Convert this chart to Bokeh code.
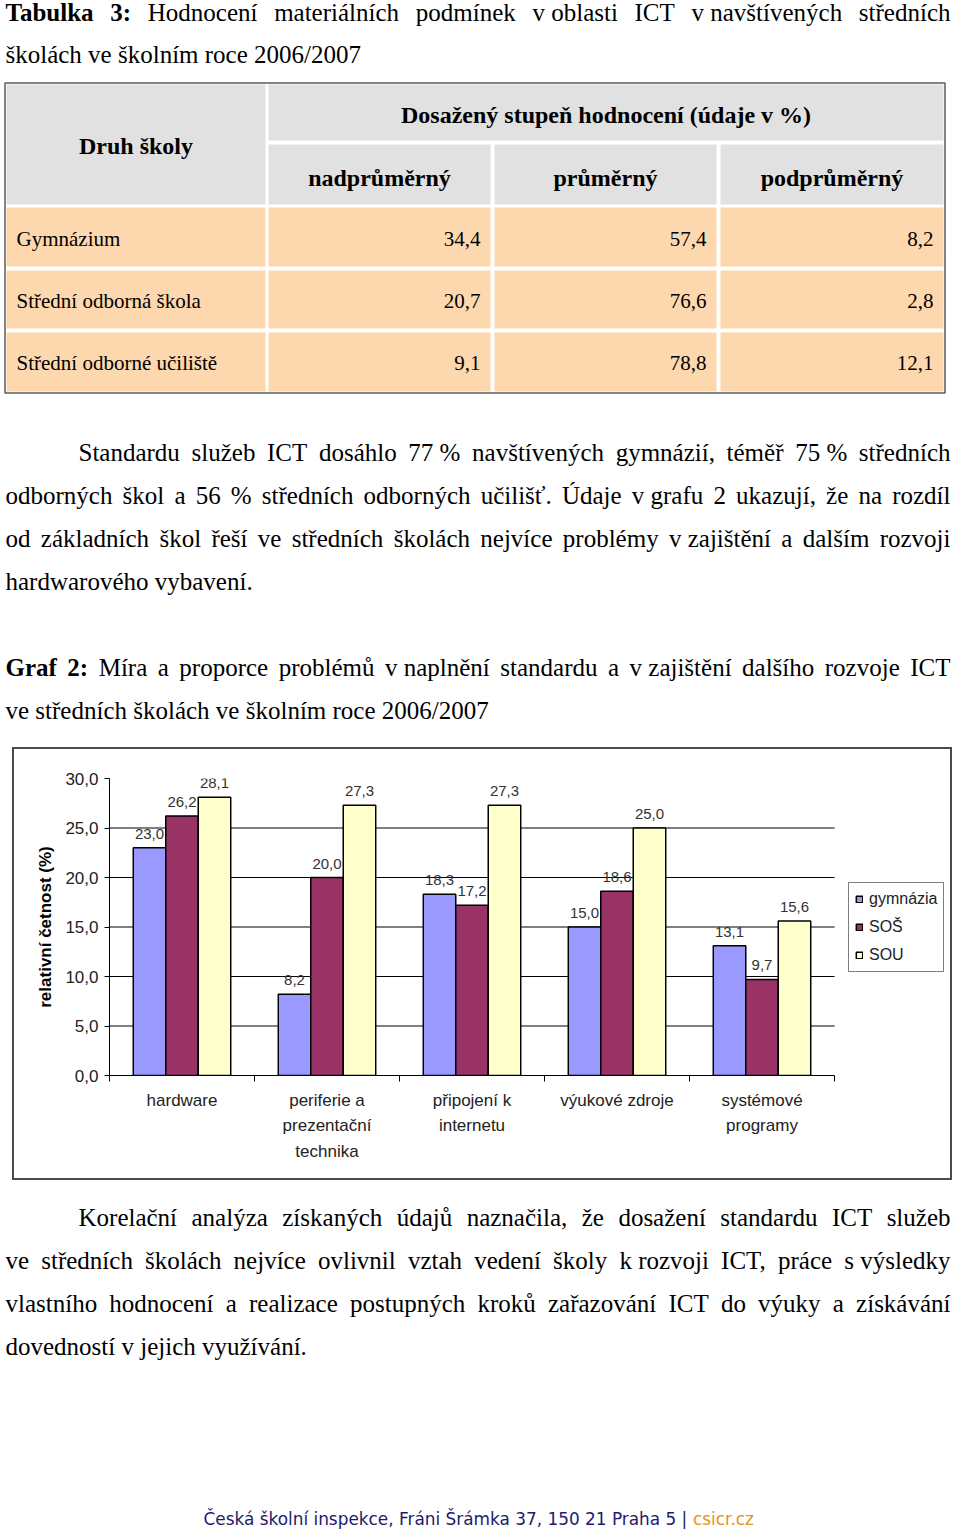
import glob
from bokeh.plotting import figure
from bokeh.layouts import column, row
from bokeh.models import (Range1d, ColumnDataSource, LinearAxis, FixedTicker,
                          CustomJSTickFormatter, Legend, LegendItem)
from bokeh.transform import dodge
from bokeh.core.properties import value
from bokeh.embed import file_html
from bokeh.resources import INLINE

# ---------------- data ----------------
title_bold = "Tabulka 3:"
title_rest = "Hodnocení materiálních podmínek v\u00a0oblasti ICT v\u00a0navštívených středních"
title_line2 = "školách ve školním roce 2006/2007"

table_head_first = "Druh školy"
table_head_group = "Dosažený stupeň hodnocení (údaje v\u00a0%)"
table_cols = ["nadprůměrný", "průměrný", "podprůměrný"]
table_schools = ["Gymnázium", "Střední odborná škola", "Střední odborné učiliště"]
table_nad = [34.4, 20.7, 9.1]
table_prum = [57.4, 76.6, 78.8]
table_pod = [8.2, 2.8, 12.1]

para1 = [
    "Standardu služeb ICT dosáhlo 77\u00a0% navštívených gymnázií, téměř 75\u00a0% středních",
    "odborných škol a 56 % středních odborných učilišť. Údaje v\u00a0grafu 2 ukazují, že na rozdíl",
    "od základních škol řeší ve středních školách nejvíce problémy v\u00a0zajištění a dalším rozvoji",
    "hardwarového vybavení.",
]
graf_bold = "Graf 2:"
graf_rest = "Míra a proporce problémů v\u00a0naplnění standardu a v\u00a0zajištění dalšího rozvoje ICT"
graf_line2 = "ve středních školách ve školním roce 2006/2007"

para2 = [
    "Korelační analýza získaných údajů naznačila, že dosažení standardu ICT služeb",
    "ve středních školách nejvíce ovlivnil vztah vedení školy k\u00a0rozvoji ICT, práce s\u00a0výsledky",
    "vlastního hodnocení a realizace postupných kroků zařazování ICT do výuky a získávání",
    "dovedností v\u00a0jejich využívání.",
]
footer_main = "Česká školní inspekce, Fráni Šrámka 37, 150 21 Praha 5 | "
footer_link = "csicr.cz"

chart_categories = ["hardware", "periferie a\nprezentační\ntechnika",
                    "připojení k\ninternetu", "výukové zdroje", "systémové\nprogramy"]
chart_series = ["gymnázia", "SOŠ", "SOU"]
gymnazia = [23.0, 8.2, 18.3, 15.0, 13.1]
sos = [26.2, 20.0, 17.2, 18.6, 9.7]
sou = [28.1, 27.3, 27.3, 25.0, 15.6]
y_ticks = [0, 5, 10, 15, 20, 25, 30]
y_label = "relativní četnost (%)"

# ---------------- text measuring ----------------
SERIF = "Liberation Serif"
SANS = "Liberation Sans"
try:
    from PIL import ImageFont
except Exception:
    ImageFont = None

_font_cache = {}


def _font(fname):
    if fname in _font_cache:
        return _font_cache[fname]
    f = None
    if ImageFont is not None:
        hits = glob.glob("/usr/**/" + fname, recursive=True)
        if hits:
            try:
                f = ImageFont.truetype(hits[0], 100)
            except Exception:
                f = None
    _font_cache[fname] = f
    return f


def measure(text, size, bold=False, fname=None):
    if fname is None:
        fname = "LiberationSerif-Bold.ttf" if bold else "LiberationSerif-Regular.ttf"
    f = _font(fname)
    if f is None:
        return len(text) * size * (0.5 if bold else 0.46)
    return f.getlength(text) * size / 100.0


def new_acc():
    return {"reg": dict(x=[], y=[], t=[]), "bold": dict(x=[], y=[], t=[])}


def layout_line(acc, segments, x0, x1, base, size, justify):
    tokens = []
    for txt, b in segments:
        for w in txt.split(" "):
            if w:
                tokens.append((w, b))
    widths = [measure(w, size, b) for w, b in tokens]
    if justify and len(tokens) > 1:
        gap = (x1 - x0 - sum(widths)) / (len(tokens) - 1)
    else:
        gap = measure(" ", size)
    x = x0
    for (w, b), wd in zip(tokens, widths):
        d = acc["bold" if b else "reg"]
        d["x"].append(x)
        d["y"].append(base)
        d["t"].append(w)
        x += wd + gap


def draw_acc(p, acc, size):
    for key, style in (("reg", "normal"), ("bold", "bold")):
        d = acc[key]
        if d["t"]:
            p.text(x=d["x"], y=d["y"], text=d["t"], text_font=value(SERIF),
                   text_font_size=f"{size}px", text_font_style=style,
                   text_color="black", text_align="left", text_baseline="alphabetic")


PAGE_W = 960


def page_fig(h, y0):
    return figure(width=PAGE_W, height=h, x_range=Range1d(0, PAGE_W), y_range=Range1d(y0 + h, y0),
                  output_backend="svg", toolbar_location=None, x_axis_type=None,
                  y_axis_type=None, min_border=0, outline_line_color=None,
                  background_fill_color="white", border_fill_color="white")


FS = 25
L, R = 5, 950
LINE = 43

# ---------------- top figure ----------------
H1 = 747
top = page_fig(H1, 0)
acc = new_acc()
layout_line(acc, [(title_bold, True), (title_rest, False)], L, R, 12, FS, True)
layout_line(acc, [(title_line2, False)], L, R, 54, FS, False)

for i, line in enumerate(para1):
    x0 = 78 if i == 0 else L
    layout_line(acc, [(line, False)], x0, R, 452 + LINE * i, FS, i < len(para1) - 1)

layout_line(acc, [(graf_bold, True), (graf_rest, False)], L, R, 667, FS, True)
layout_line(acc, [(graf_line2, False)], L, R, 710, FS, False)
draw_acc(top, acc, FS)

# table
col_l = [6, 268, 494, 720]
col_r = [265, 490, 716, 943]
head_rows = [(84, 140), (144, 204)]
body_rows = [(207, 266), (270, 328), (332, 391)]
top.quad(left=[4.5], right=[944.5], top=[82.5], bottom=[392.5], fill_color=None,
         line_color="#5c5c5c", line_width=1.5)
top.quad(left=[col_l[0]], right=[col_r[0]], top=[head_rows[0][0]], bottom=[head_rows[1][1]],
         fill_color="#e1e1e1", line_color=None)
top.quad(left=[col_l[1]], right=[col_r[3]], top=[head_rows[0][0]], bottom=[head_rows[0][1]],
         fill_color="#e1e1e1", line_color=None)
top.quad(left=col_l[1:], right=col_r[1:], top=[head_rows[1][0]] * 3, bottom=[head_rows[1][1]] * 3,
         fill_color="#e1e1e1", line_color=None)
bl, br, bt, bb = [], [], [], []
for (r0, r1) in body_rows:
    for c in range(4):
        bl.append(col_l[c]); br.append(col_r[c]); bt.append(r0); bb.append(r1)
top.quad(left=bl, right=br, top=bt, bottom=bb, fill_color="#fdd8ae", line_color=None)

hx = [(col_l[0] + col_r[0]) / 2, (col_l[1] + col_r[3]) / 2] + [(col_l[c] + col_r[c]) / 2 for c in range(1, 4)]
hy = [145, 114, 177, 177, 177]
ht = [table_head_first, table_head_group] + table_cols
top.text(x=hx, y=hy, text=ht, text_font=value(SERIF), text_font_size="24px",
         text_font_style="bold", text_align="center", text_baseline="alphabetic", text_color="black")

body_base = [238, 300, 362]
top.text(x=[16] * 3, y=body_base, text=table_schools, text_font=value(SERIF),
         text_font_size="21px", text_align="left", text_baseline="alphabetic", text_color="black")
vx, vy, vt = [], [], []
for c, vals in enumerate([table_nad, table_prum, table_pod]):
    for r, v in enumerate(vals):
        vx.append(col_r[c + 1] - 10)
        vy.append(body_base[r])
        vt.append(f"{v:.1f}".replace(".", ","))
top.text(x=vx, y=vy, text=vt, text_font=value(SERIF), text_font_size="21px",
         text_align="right", text_baseline="alphabetic", text_color="black")

# ---------------- chart ----------------
CW, CH = 940, 433
BORDER_L, BORDER_R, BORDER_T, BORDER_B = 95, 4, 29, 107
frame_w = CW - BORDER_L - BORDER_R
cat_px = 145.0
n_cat = len(chart_categories)
chart = figure(width=CW, height=CH, x_range=Range1d(0, frame_w / cat_px), y_range=Range1d(0, 30),
               output_backend="svg", toolbar_location=None, x_axis_type=None, y_axis_type=None,
               min_border_left=BORDER_L, min_border_right=BORDER_R, min_border_top=BORDER_T,
               min_border_bottom=BORDER_B, outline_line_color=None,
               background_fill_color="white", border_fill_color="white",
               margin=(0, 0, 0, 12), styles={"border": "2px solid #4a4a4a"})

fmt = lambda v: f"{v:.1f}".replace(".", ",")
src = ColumnDataSource(dict(
    x=[i + 0.5 for i in range(n_cat)],
    gym=gymnazia, sos=sos, sou=sou,
    gym_l=[fmt(v) for v in gymnazia], sos_l=[fmt(v) for v in sos], sou_l=[fmt(v) for v in sou],
))

# horizontal gridlines (limited to the category area)
grid_vals = y_ticks[1:-1]
chart.segment(x0=[0] * len(grid_vals), x1=[n_cat] * len(grid_vals), y0=grid_vals, y1=grid_vals,
              line_color="black", line_width=1)

BW = 0.224
colors = ["#9999ff", "#993366", "#ffffcc"]
renderers = []
for k, (col, lcol) in enumerate([("gym", "gym_l"), ("sos", "sos_l"), ("sou", "sou_l")]):
    off = (k - 1) * BW
    r = chart.vbar(x=dodge("x", off, range=chart.x_range), top=col, width=BW, bottom=0,
                   source=src, fill_color=colors[k], line_color="black", line_width=1.5)
    renderers.append(r)
for k, (col, lcol) in enumerate([("gym", "gym_l"), ("sos", "sos_l"), ("sou", "sou_l")]):
    off = (k - 1) * BW
    chart.text(x=dodge("x", off, range=chart.x_range), y=col, text=lcol, source=src,
               y_offset=-9, text_align="center", text_baseline="bottom",
               text_font=value(SANS), text_font_size="15px", text_color="#333333")

yaxis = LinearAxis(ticker=FixedTicker(ticks=y_ticks),
                   formatter=CustomJSTickFormatter(code="return tick.toFixed(1).replace('.', ',')"),
                   axis_label=y_label)
yaxis.axis_line_color = "black"
yaxis.major_tick_line_color = "black"
yaxis.major_tick_out = 5
yaxis.major_tick_in = 0
yaxis.minor_tick_out = 0
yaxis.major_label_standoff = 6
yaxis.major_label_text_font = SANS
yaxis.major_label_text_font_size = "17px"
yaxis.major_label_text_color = "#222222"
yaxis.axis_label_text_font = SANS
yaxis.axis_label_text_font_size = "17px"
yaxis.axis_label_text_font_style = "bold"
yaxis.axis_label_text_color = "black"
yaxis.axis_label_standoff = 7
chart.add_layout(yaxis, "left")

xaxis = LinearAxis(ticker=FixedTicker(ticks=[i + 0.5 for i in range(n_cat)],
                                      minor_ticks=list(range(n_cat + 1))),
                   major_label_overrides={i + 0.5: c for i, c in enumerate(chart_categories)},
                   bounds=(0, n_cat))
xaxis.axis_line_color = "black"
xaxis.major_tick_out = 0
xaxis.major_tick_in = 0
xaxis.minor_tick_out = 6
xaxis.minor_tick_in = 0
xaxis.minor_tick_line_color = "black"
xaxis.major_label_standoff = 9
xaxis.major_label_text_font = SANS
xaxis.major_label_text_font_size = "17px"
xaxis.major_label_text_color = "#222222"
xaxis.major_label_text_line_height = 1.35
chart.add_layout(xaxis, "below")

legend = Legend(items=[LegendItem(label=s, renderers=[r]) for s, r in zip(chart_series, renderers)],
                location=(739, 103))
legend.border_line_color = "black"
legend.border_line_width = 1
legend.background_fill_color = "white"
legend.background_fill_alpha = 1
legend.label_text_font = SANS
legend.label_text_font_size = "16px"
legend.label_text_color = "#222222"
legend.glyph_width = 8
legend.glyph_height = 8
legend.padding = 6
legend.spacing = 8
legend.label_standoff = 6
legend.label_height = 20
legend.margin = 0
chart.add_layout(legend)

# ---------------- bottom figure ----------------
H3 = 350
bottom = page_fig(H3, 1180)
acc2 = new_acc()
for i, line in enumerate(para2):
    x0 = 78 if i == 0 else L
    layout_line(acc2, [(line, False)], x0, R, 1217 + LINE * i, FS, i < len(para2) - 1)
draw_acc(bottom, acc2, FS)

FOOT_FONT = "DejaVu Sans"
full_w = measure(footer_main + footer_link, 100, fname="DejaVuSans.ttf")
fsize = round(100 * 550 / full_w, 1) if full_w > 0 else 14
main_w = measure(footer_main, fsize, fname="DejaVuSans.ttf")
fx0 = 478 - 550 / 2
bottom.text(x=[fx0], y=[1518], text=[footer_main], text_font=value(FOOT_FONT),
            text_font_size=f"{fsize}px", text_color="#221a6e", text_align="left",
            text_baseline="alphabetic")
bottom.text(x=[fx0 + main_w], y=[1518], text=[footer_link], text_font=value(FOOT_FONT),
            text_font_size=f"{fsize}px", text_color="#e5931e", text_align="left",
            text_baseline="alphabetic")

page = column(top, row(chart), bottom, spacing=0)
open("out.html", "w").write(file_html(page, INLINE))
